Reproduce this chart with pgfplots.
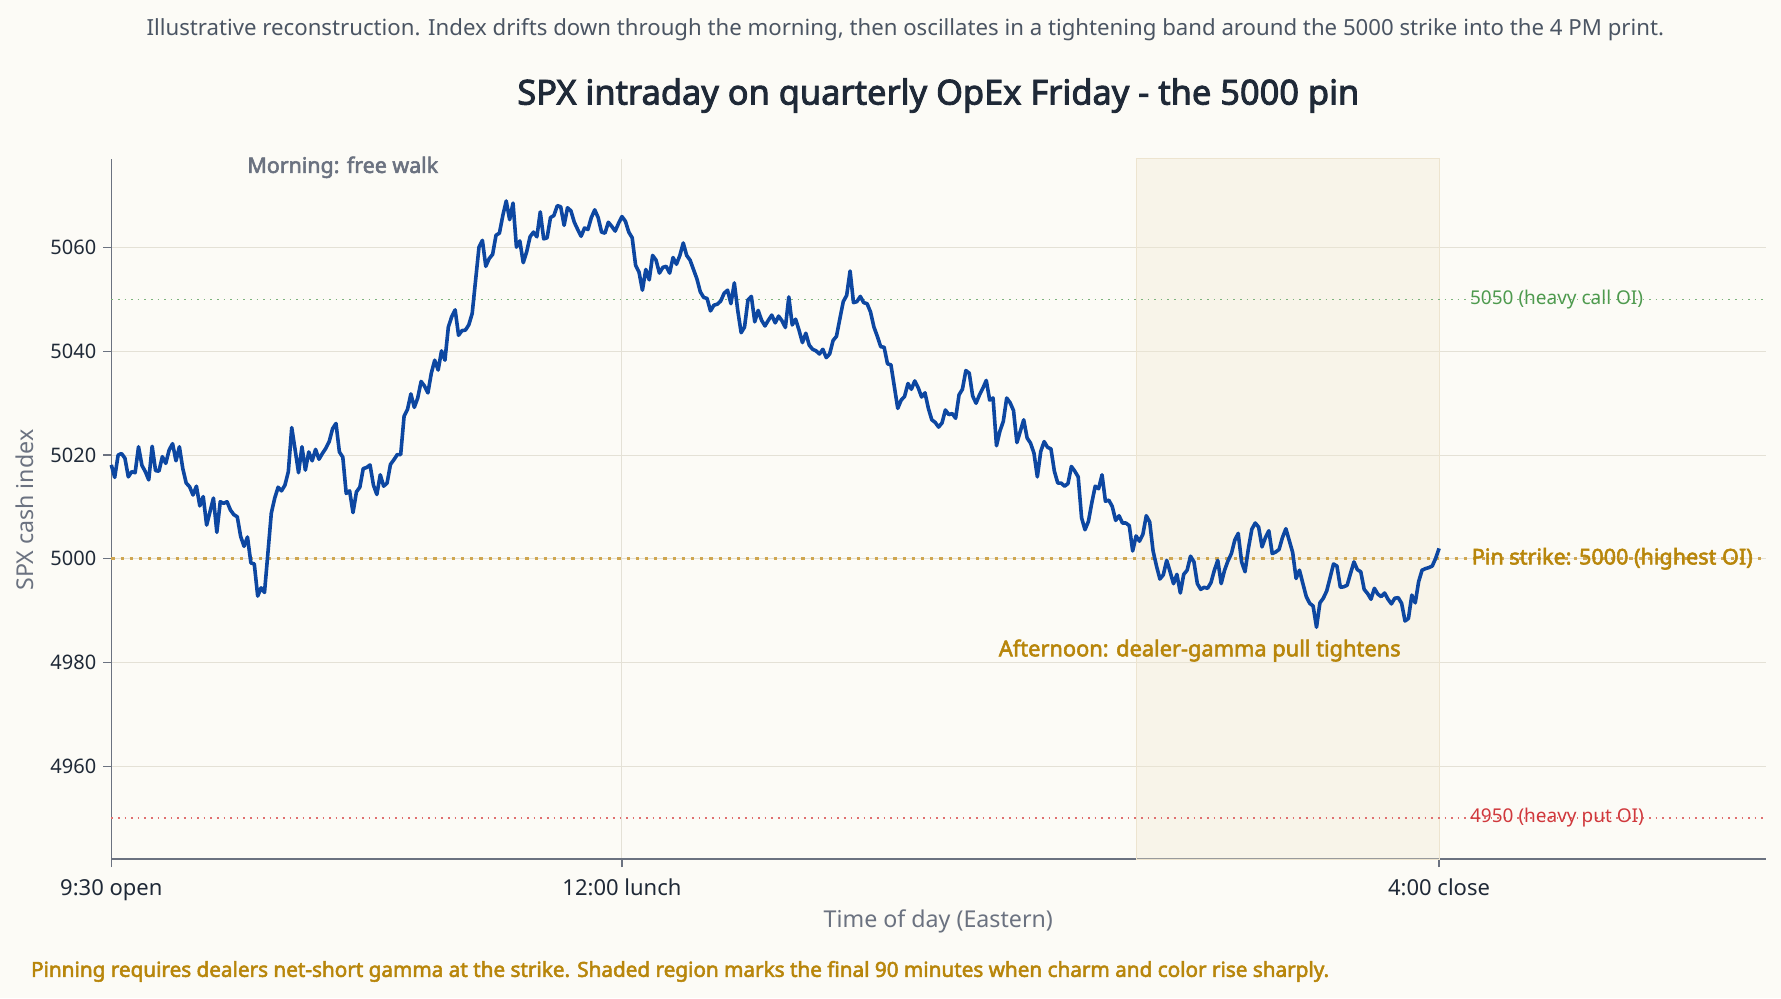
\documentclass[border=0pt]{standalone}
\usepackage{fontspec}
\setmainfont{Noto Sans}[AutoFakeBold=2.6]
\usepackage{pgfplots}
\usepackage{pgfplotstable}
\pgfplotsset{compat=1.18}
\definecolor{bg}{HTML}{FCFBF6}
\definecolor{lineblue}{HTML}{0D47A1}
\definecolor{gridc}{HTML}{E4E1D6}
\definecolor{shadec}{HTML}{F1E7D1}
\definecolor{shadeedge}{HTML}{EDE4CF}
\definecolor{axc}{HTML}{6B7280}
\definecolor{titlec}{HTML}{1F2937}
\definecolor{subc}{HTML}{4B5563}
\definecolor{goldt}{HTML}{B8860B}
\definecolor{goldl}{HTML}{CFA650}
\definecolor{greent}{HTML}{4E9A4E}
\definecolor{greenl}{HTML}{7DB47D}
\definecolor{redt}{HTML}{D0383C}
\definecolor{redl}{HTML}{E07070}

\pgfplotstableread{
t v
0 5018.1
1 5015.7
2 5020
3 5020.3
4 5019.4
5 5015.8
6 5016.8
7 5016.6
8 5021.6
9 5018
10 5016.8
11 5015.2
12 5021.7
13 5017
14 5016.9
15 5019.7
16 5018.4
17 5021
18 5022.2
19 5018.9
20 5021.6
21 5017.4
22 5014.6
23 5013.9
24 5012.3
25 5014
26 5010.2
27 5012
28 5006.5
29 5009.1
30 5011.7
31 5005.1
32 5011
33 5010.7
34 5011
35 5009.4
36 5008.5
37 5008.1
38 5004.3
39 5002.4
40 5004.2
41 4999.2
42 4999
43 4992.8
44 4994.4
45 4993.5
46 5001.1
47 5008.8
48 5011.7
49 5013.8
50 5013.1
51 5014.2
52 5016.8
53 5025.3
54 5021
55 5016.6
56 5021.6
57 5017.1
58 5020.6
59 5018.9
60 5021.1
61 5019.2
62 5020.3
63 5021.3
64 5022.6
65 5025.1
66 5026.1
67 5020.6
68 5019.6
69 5012.6
70 5013.1
71 5008.9
72 5012.9
73 5013.8
74 5017.4
75 5017.6
76 5018.1
77 5014.2
78 5012.4
79 5016.2
80 5014
81 5014.6
82 5018.2
83 5019.1
84 5020.1
85 5020.1
86 5027.5
87 5028.8
88 5031.8
89 5029.2
90 5031
91 5034.2
92 5033.3
93 5032
94 5035.8
95 5038.3
96 5036.4
97 5040.1
98 5038.3
99 5044.7
100 5046.7
101 5048
102 5043.1
103 5044
104 5044.1
105 5045.1
106 5047.3
107 5053.7
108 5060.1
109 5061.4
110 5056.4
111 5057.9
112 5058.7
113 5062.4
114 5062.8
115 5066.2
116 5069
117 5065.4
118 5068.6
119 5060.1
120 5061.3
121 5057.1
122 5059.2
123 5062.1
124 5063
125 5062.1
126 5066.9
127 5061.7
128 5061.9
129 5065.8
130 5066.2
131 5068.1
132 5067.9
133 5064.3
134 5067.7
135 5067.1
136 5064.9
137 5063.5
138 5062.2
139 5063.8
140 5063.5
141 5065.8
142 5067.3
143 5065.8
144 5063
145 5062.8
146 5064.9
147 5064.1
148 5063.2
149 5064.7
150 5066
151 5065.1
152 5063
153 5061.9
154 5056.6
155 5055.3
156 5051.8
157 5055.8
158 5053.8
159 5058.5
160 5057.6
161 5055.1
162 5056.2
163 5056.4
164 5055.1
165 5058.1
166 5056.8
167 5058.5
168 5060.9
169 5058.5
170 5057.6
171 5055.8
172 5054
173 5051.5
174 5050.4
175 5050.2
176 5047.8
177 5048.9
178 5049.1
179 5049.7
180 5051.2
181 5051.8
182 5049.2
183 5053.2
184 5047.9
185 5043.6
186 5044.7
187 5049.9
188 5050.6
189 5045.7
190 5047.9
191 5046
192 5044.9
193 5046
194 5047
195 5045.5
196 5046.8
197 5045.9
198 5044.6
199 5050.5
200 5045.1
201 5046.2
202 5044.1
203 5041.7
204 5043.5
205 5041.2
206 5040.4
207 5040.1
208 5039.5
209 5040.4
210 5038.8
211 5039.5
212 5042.1
213 5042.9
214 5046.3
215 5049.6
216 5050.8
217 5055.5
218 5049.4
219 5049.6
220 5050.6
221 5049.4
222 5049.2
223 5047.6
224 5044.7
225 5042.9
226 5040.9
227 5040.8
228 5037.6
229 5037.4
230 5033.2
231 5029
232 5030.6
233 5031.3
234 5033.8
235 5032.7
236 5034.3
237 5033
238 5031.2
239 5032
240 5029
241 5026.8
242 5026.3
243 5025.4
244 5026.2
245 5028.7
246 5027.8
247 5028
248 5027.1
249 5031.6
250 5032.7
251 5036.3
252 5035.8
253 5031.4
254 5030
255 5031.6
256 5032.9
257 5034.4
258 5030.6
259 5031
260 5021.8
261 5024.6
262 5026.5
263 5031
264 5030.1
265 5028.6
266 5022.4
267 5024.6
268 5026.8
269 5023.3
270 5022.3
271 5020.4
272 5015.8
273 5020.7
274 5022.6
275 5021.5
276 5021.2
277 5016.9
278 5014.6
279 5014.6
280 5014
281 5014.5
282 5017.8
283 5016.9
284 5015.8
285 5007.9
286 5005.6
287 5007.2
288 5010.8
289 5014
290 5013.5
291 5016.2
292 5011.1
293 5011.3
294 5010.1
295 5007.4
296 5008.3
297 5006.9
298 5006.9
299 5006.4
300 5001.5
301 5004.4
302 5003.4
303 5004.7
304 5008.3
305 5007.1
306 5001.5
307 4998.6
308 4996.1
309 4996.9
310 4999.7
311 4997.5
312 4995.2
313 4997
314 4993.4
315 4997
316 4997.8
317 5000.5
318 4999.4
319 4995.2
320 4994.1
321 4994.5
322 4994.3
323 4995.4
324 4997.8
325 4999.7
326 4995.2
327 4997.8
328 4999.6
329 5001
330 5003.6
331 5004.9
332 4999.4
333 4997.5
334 5002
335 5005.7
336 5006.9
337 5006.1
338 5002.3
339 5004.1
340 5005.4
341 5001
342 5001.3
343 5001.8
344 5004.1
345 5005.8
346 5003.5
347 5001.2
348 4996.2
349 4997.8
350 4995.2
351 4992.7
352 4991.4
353 4990.9
354 4986.8
355 4991.5
356 4992.4
357 4993.8
358 4996.4
359 4999
360 4998.6
361 4994.5
362 4994.6
363 4994.9
364 4997.2
365 4999.4
366 4997.9
367 4997.5
368 4994.1
369 4993.3
370 4992.2
371 4994.3
372 4993.2
373 4992.7
374 4993.4
375 4992.2
376 4991.3
377 4992.4
378 4992.5
379 4991.4
380 4988
381 4988.5
382 4993
383 4991.5
384 4995.6
385 4997.8
386 4998.1
387 4998.3
388 4998.6
389 5000.1
390 5002
}\spx

\begin{document}
\begin{tikzpicture}[x=1pt,y=1pt]
\fill[bg] (-55.65,-69.5) rectangle (834.85,429.5);
\begin{axis}[
  at={(0,0)}, anchor=south west,
  scale only axis, width=827.3pt, height=350pt,
  xmin=0, xmax=486, ymin=4942.1, ymax=5077.1,
  clip=false,
  axis lines*=left,
  axis line style={axc, line width=0.8pt},
  xtick={0,150,390},
  xticklabels={9:30 open,12:00 lunch,4:00 close},
  ytick={4960,4980,5000,5020,5040,5060},
  grid=major,
  grid style={gridc, line width=0.5pt},
  tick align=outside,
  major tick length=4pt,
  tick style={axc, line width=0.6pt},
  ticklabel style={text=titlec},
  yticklabel style={font=\fontsize{10}{12}\selectfont, /pgf/number format/1000 sep={}, /pgf/number format/assume math mode=true},
  xticklabel style={font=\fontsize{11}{13}\selectfont, yshift=-2.5pt},
]
\addplot[fill=shadec, fill opacity=0.35, draw=shadeedge, line width=0.5pt]
  coordinates {(301,4942.1) (390,4942.1) (390,5077.1) (301,5077.1) (301,4942.1)};
\addplot[greenl, line width=0.8pt, dash pattern=on 0.8pt off 2.5pt] coordinates {(0,5050) (486,5050)};
\addplot[redl, line width=0.8pt, dash pattern=on 0.8pt off 2.5pt] coordinates {(0,4950) (486,4950)};
\addplot[goldl, line width=1.4pt, dash pattern=on 1.6pt off 3.0pt] coordinates {(0,5000) (486,5000)};
\addplot[lineblue, line width=1.8pt, line join=round] table[x=t, y=v] {\spx};
\node[anchor=west, inner sep=0pt, text=greent, font=\fontsize{9.5}{11}\selectfont] at (axis cs:399,5050) {5050 (heavy call OI)};
\node[anchor=west, inner sep=0pt, text=redt, font=\fontsize{9.5}{11}\selectfont] at (axis cs:399,4950) {4950 (heavy put OI)};
\node[anchor=west, inner sep=0pt, text=goldt, font=\fontsize{10.8}{12}\selectfont\bfseries] at (axis cs:399.5,5000) {Pin strike: 5000 (highest OI)};
\node[inner sep=0pt, text=axc, font=\fontsize{10.7}{12}\selectfont\bfseries] at (axis cs:68,5075.5) {Morning: free walk};
\node[inner sep=0pt, text=goldt, font=\fontsize{10.9}{12}\selectfont\bfseries] at (axis cs:319.7,4982.3) {Afternoon: dealer-gamma pull tightens};
\end{axis}
\node[text=subc, font=\fontsize{11.1}{13}\selectfont] at (397,414.7) {Illustrative reconstruction. Index drifts down through the morning, then oscillates in a tightening band around the 5000 strike into the 4 PM print.};
\node[text=titlec, font=\fontsize{17.2}{20}\selectfont\bfseries] at (413.5,381.7) {SPX intraday on quarterly OpEx Friday - the 5000 pin};
\node[text=axc, font=\fontsize{11.6}{14}\selectfont] at (413.5,-31.3) {Time of day (Eastern)};
\node[text=axc, font=\fontsize{11.6}{14}\selectfont, rotate=90] at (-43.2,174.4) {SPX cash index};
\node[anchor=west, inner sep=0pt, text=goldt, font=\fontsize{10.35}{12}\selectfont\bfseries] at (-40.3,-56.2) {Pinning requires dealers net-short gamma at the strike. Shaded region marks the final 90 minutes when charm and color rise sharply.};
\pgfresetboundingbox
\useasboundingbox (-55.65,-69.5) rectangle (834.85,429.5);
\end{tikzpicture}
\end{document}
